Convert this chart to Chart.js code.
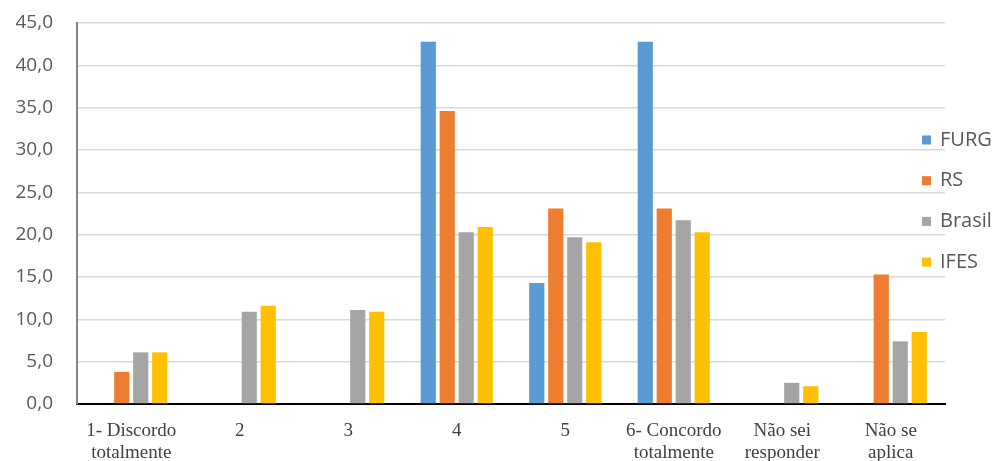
<!DOCTYPE html>
<html>
<head>
<meta charset="utf-8">
<script src="https://cdn.jsdelivr.net/npm/chart.js@4"></script>
<style>
  html, body { margin: 0; padding: 0; background: #fff; }
  #wrap { width: 998px; height: 461px; }
</style>
</head>
<body>
<div id="wrap"><canvas id="c" width="998" height="461"></canvas></div>
<script>
const categories = [
  ['1- Discordo', 'totalmente'], '2', '3', '4', '5',
  ['6- Concordo', 'totalmente'], ['Não sei', 'responder'], ['Não se', 'aplica']
];
const seriesNames = ['FURG', 'RS', 'Brasil', 'IFES'];
const furg   = [0, 0, 0, 42.8, 14.3, 42.8, 0, 0];
const rs     = [3.8, 0, 0, 34.6, 23.1, 23.1, 0, 15.3];
const brasil = [6.1, 10.9, 11.1, 20.3, 19.7, 21.7, 2.5, 7.4];
const ifes   = [6.1, 11.6, 10.9, 20.9, 19.1, 20.3, 2.1, 8.5];
const colors = ['#5B9BD5', '#ED7D31', '#A5A5A5', '#FFC000'];
const yTickStep = 5, yMin = 0, yMax = 45;

const seriesValues = [furg, rs, brasil, ifes];

const overlayLegend = {
  id: 'overlayLegend',
  afterDraw(chart) {
    const ctx = chart.ctx;
    ctx.save();
    ctx.font = '20px "Open Sans"';
    ctx.textBaseline = 'middle';
    ctx.textAlign = 'left';
    chart.data.datasets.forEach((ds, i) => {
      const y = 140 + i * 40.7;
      ctx.fillStyle = ds.backgroundColor;
      ctx.fillRect(922, y - 4.5, 9, 9);
      ctx.fillStyle = '#595959';
      ctx.fillText(ds.label, 940, y);
    });
    ctx.restore();
  }
};

new Chart(document.getElementById('c'), {
  type: 'bar',
  data: {
    labels: categories,
    datasets: seriesNames.map((n, i) => ({
      label: n,
      data: seriesValues[i],
      backgroundColor: colors[i],
      borderWidth: 0,
      categoryPercentage: 0.7,
      barPercentage: 0.8
    }))
  },
  options: {
    responsive: false,
    animation: false,
    devicePixelRatio: 1,
    layout: { padding: { top: 23, right: 53, left: 16, bottom: 0 } },
    plugins: {
      legend: { display: false },
      tooltip: { enabled: false }
    },
    scales: {
      x: {
        grid: { display: false, drawTicks: false },
        border: { color: '#000000', width: 2 },
        ticks: {
          color: '#404040',
          font: { family: '"Liberation Serif"', size: 19, lineHeight: 1.15 },
          padding: 16,
          maxRotation: 0,
          autoSkip: false
        },
        afterFit(scale) { scale.height = 57; scale.paddingLeft = 0; scale.paddingRight = 0; }
      },
      y: {
        min: yMin, max: yMax,
        grid: { color: '#d9d9d9', lineWidth: 1.5, drawTicks: false },
        border: { color: '#858585', width: 2 },
        ticks: {
          stepSize: yTickStep,
          color: '#595959',
          font: { family: '"Open Sans"', size: 19 },
          padding: 24,
          callback: v => v.toFixed(1).replace('.', ',')
        },
        afterFit(scale) { scale.width = 61; scale.paddingTop = 0; scale.paddingBottom = 0; }
      }
    }
  },
  plugins: [overlayLegend]
});
</script>
</body>
</html>
